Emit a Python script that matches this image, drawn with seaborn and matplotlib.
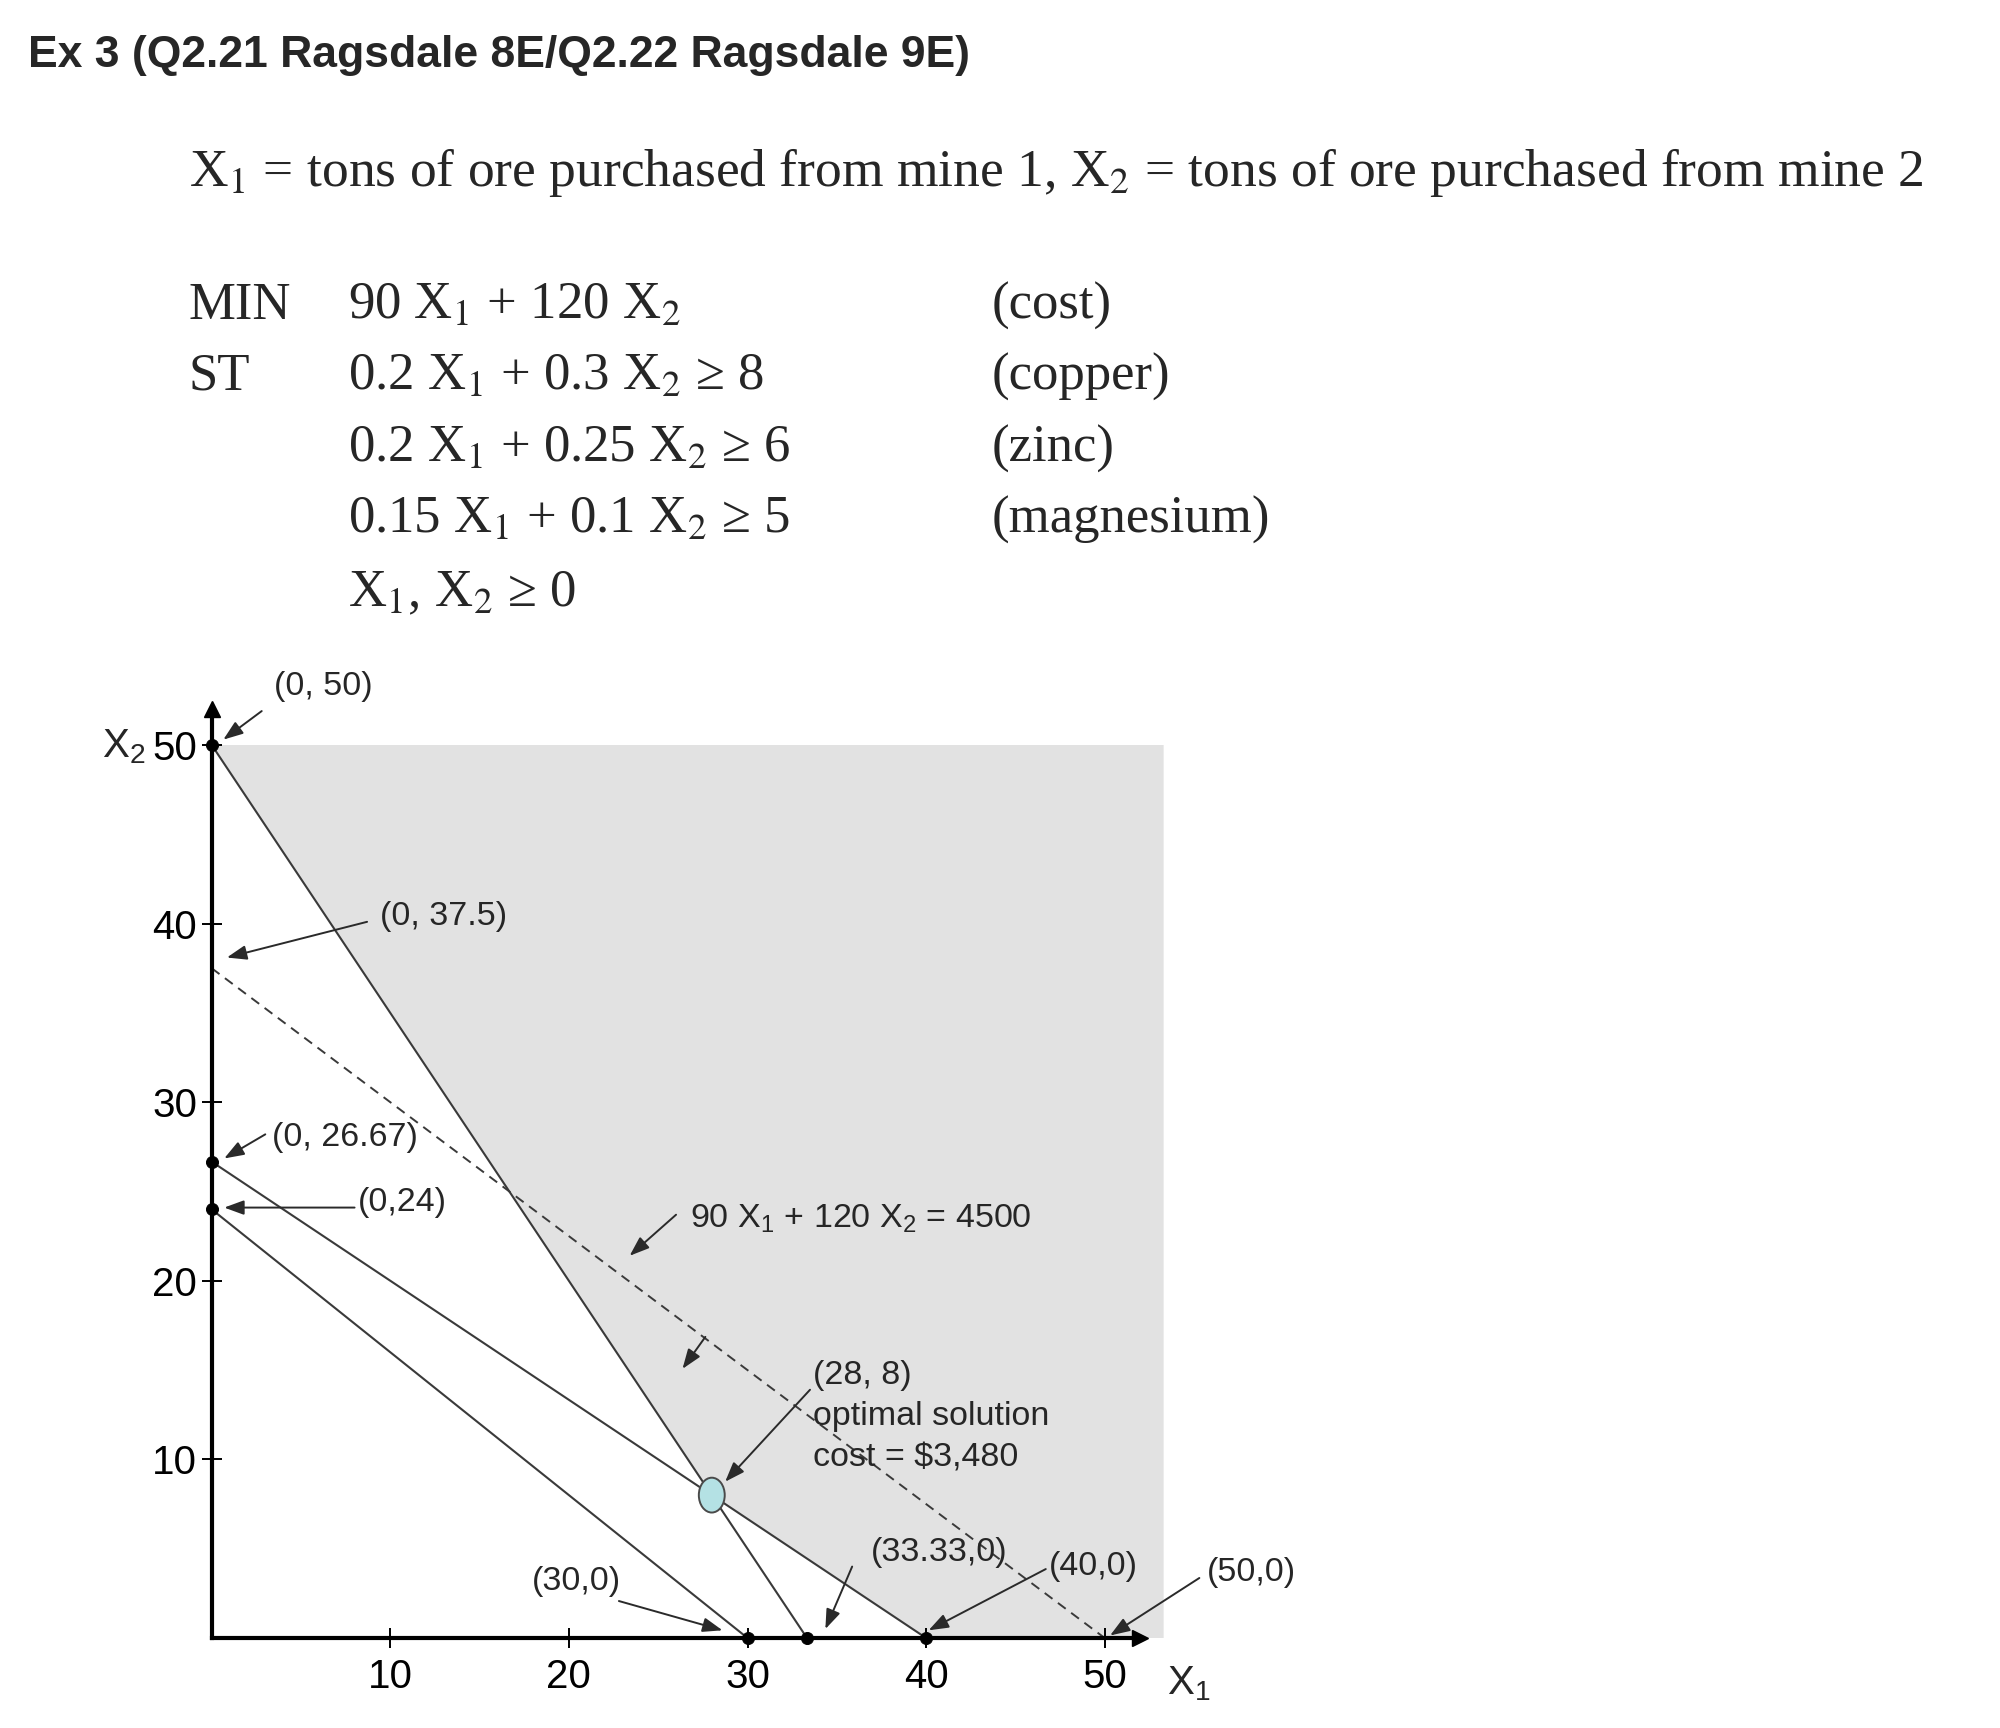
import matplotlib
matplotlib.use("Agg")
import matplotlib.pyplot as plt
from matplotlib.patches import Ellipse
import numpy as np
import pandas as pd
import seaborn as sns

# ------------------------------------------------------------------ data
title_text = "Ex 3 (Q2.21 Ragsdale 8E/Q2.22 Ragsdale 9E)"
definition_text = ("X$_1$ = tons of ore purchased from mine 1, "
                   "X$_2$ = tons of ore purchased from mine 2")
model_keywords = ["MIN", "ST", "", "", ""]
model_expressions = ["90 X$_1$ + 120 X$_2$",
                     "0.2 X$_1$ + 0.3 X$_2$ \u2265 8",
                     "0.2 X$_1$ + 0.25 X$_2$ \u2265 6",
                     "0.15 X$_1$ + 0.1 X$_2$ \u2265 5",
                     "X$_1$, X$_2$ \u2265 0"]
model_notes = ["(cost)", "(copper)", "(zinc)", "(magnesium)", ""]

axis_ticks = [10, 20, 30, 40, 50]
constraint_names = ["copper", "zinc", "magnesium"]
constraint_x1_intercepts = [40.0, 30.0, 33.33]
constraint_x2_intercepts = [26.67, 24.0, 50.0]
isocost_x1 = [0.0, 50.0]
isocost_x2 = [37.5, 0.0]
corner_x1 = [0, 0, 0, 30, 33.33, 40]
corner_x2 = [50, 26.67, 24, 0, 0, 0]
optimum_x1 = [28]
optimum_x2 = [8]
region_x1 = [0, 53.3, 53.3, 40, 28, 0]
region_x2 = [50, 50, 0, 0, 8, 50]

# ------------------------------------------------------------------ style
sns.set_theme(style="white")
plt.rcParams["font.family"] = ["Liberation Sans", "DejaVu Sans"]
plt.rcParams["mathtext.fontset"] = "custom"
plt.rcParams["mathtext.rm"] = "Liberation Sans"
plt.rcParams["mathtext.it"] = "Liberation Sans:italic"
plt.rcParams["mathtext.bf"] = "Liberation Sans:bold"

W, H = 2000, 1728
fig = plt.figure(figsize=(W / 100, H / 100), dpi=100)
fig.patch.set_facecolor("white")

# header text (pixel layout -> figure fraction)
def fx(px):
    return px / W

def fy(py):
    return 1 - py / H

fig.text(fx(28), fy(67), title_text, fontsize=32, fontweight="bold",
         ha="left", va="baseline", family=["Liberation Sans", "DejaVu Sans"])
serif = ["Liberation Serif", "DejaVu Serif"]
fig.text(fx(189), fy(186), definition_text, fontsize=38.5, family=serif,
         math_fontfamily="stix", ha="left", va="baseline")
row_baselines = [319, 390, 462, 533, 606]
for kw, expr, note, yb in zip(model_keywords, model_expressions, model_notes, row_baselines):
    if kw:
        fig.text(fx(189), fy(yb), kw, fontsize=38, family=serif, va="baseline")
    fig.text(fx(348), fy(yb), expr, fontsize=38, family=serif,
             math_fontfamily="stix", va="baseline")
    if note:
        fig.text(fx(992), fy(yb), note, fontsize=38, family=serif, va="baseline")

# ------------------------------------------------------------------ axes
ORIGIN_X, ORIGIN_Y, UNIT = 211.7, 1638.0, 17.86
xlim, ylim = (-6, 66), (-5, 56)
left_px = ORIGIN_X + xlim[0] * UNIT
bottom_px = ORIGIN_Y - ylim[0] * UNIT
ax = fig.add_axes([left_px / W, 1 - bottom_px / H,
                   (xlim[1] - xlim[0]) * UNIT / W, (ylim[1] - ylim[0]) * UNIT / H])
ax.set_facecolor("none")

# feasible region
ax.fill(region_x1, region_x2, color="#e2e2e2", lw=0, zorder=0)

# constraint lines
rows = []
for name, a, b in zip(constraint_names, constraint_x1_intercepts, constraint_x2_intercepts):
    rows.append({"constraint": name, "X1": 0.0, "X2": b})
    rows.append({"constraint": name, "X1": a, "X2": 0.0})
df = pd.DataFrame(rows)
sns.lineplot(data=df, x="X1", y="X2", units="constraint", estimator=None,
             sort=False, color="#3a3a3a", lw=1.5, ax=ax, zorder=3)
sns.lineplot(x=isocost_x1, y=isocost_x2, estimator=None, sort=False,
             color="#3a3a3a", lw=1.4, linestyle=(0, (5, 3.5)), ax=ax, zorder=3)

# corner points
sns.scatterplot(x=corner_x1, y=corner_x2, color="black", s=75,
                edgecolor="black", ax=ax, zorder=6, clip_on=False)

# optimal point
ax.add_patch(Ellipse((optimum_x1[0], optimum_x2[0]), 1.45, 1.95,
                     facecolor="#b4e1e4", edgecolor="#4a4a4a", lw=1.4, zorder=7))

# axes lines with arrows
for s in ["top", "right"]:
    ax.spines[s].set_visible(False)
for s in ["left", "bottom"]:
    ax.spines[s].set_position(("data", 0))
    ax.spines[s].set_bounds(0, 52.0)
    ax.spines[s].set_linewidth(3)
    ax.spines[s].set_color("black")
    ax.spines[s].set_zorder(5)
ax.plot([0], [52.0], marker="^", ms=12, color="black", clip_on=False, zorder=8)
ax.plot([52.0], [0], marker=">", ms=12, color="black", clip_on=False, zorder=8)

ax.set_xlim(*xlim)
ax.set_ylim(*ylim)
ax.set_xticks(axis_ticks)
ax.set_yticks(axis_ticks)
ax.set_xticklabels([str(t) for t in axis_ticks])
ax.set_yticklabels([str(t) for t in axis_ticks])
ax.tick_params(bottom=True, left=True, direction="inout", length=15, width=1.4,
               colors="black", labelsize=29)
ax.tick_params(axis="x", pad=7)
ax.tick_params(axis="y", pad=3)
ax.set_xlabel("")
ax.set_ylabel("")
ax.grid(False)

ax.text(-6.15, 49.3, "X$_2$", fontsize=29, ha="left", va="baseline")
ax.text(53.5, -3.14, "X$_1$", fontsize=29, ha="left", va="baseline")

# annotations: label, label position, arrow tail, arrow head
ANN_FS = 24.5
annotations = [
    ("(0, 50)", (3.5, 53.3), (2.8, 51.9), (0.65, 50.3)),
    ("(0, 37.5)", (9.4, 40.4), (8.7, 40.1), (0.85, 38.1)),
    ("(0, 26.67)", (3.4, 28.0), (3.0, 28.2), (0.7, 26.85)),
    ("(0,24)", (8.2, 24.4), (8.0, 24.1), (0.7, 24.1)),
    ("(33.33,0)", (36.9, 4.79), (35.86, 4.0), (34.36, 0.5)),
    ("(40,0)", (46.9, 4.0), (46.7, 3.86), (40.14, 0.43)),
    ("(50,0)", (55.7, 3.64), (55.3, 3.36), (50.3, 0.14)),
    ("(30,0)", (17.93, 3.14), (22.8, 2.07), (28.6, 0.43)),
    ("", None, (27.64, 16.86), (26.36, 15.07)),
    ("", None, (26.0, 23.7), (23.4, 21.4)),
    ("", None, (33.5, 13.9), (28.75, 8.75)),
]
arrow_kw = dict(arrowstyle="-|>,head_length=0.6,head_width=0.22",
                color="#2a2a2a", lw=1.4, shrinkA=0, shrinkB=0, mutation_scale=20)
for label, tpos, tail, head in annotations:
    ax.annotate("", xy=head, xytext=tail, arrowprops=arrow_kw, zorder=8,
                annotation_clip=False)
    if label:
        ax.text(tpos[0], tpos[1], label, fontsize=ANN_FS, ha="left",
                va="center", zorder=9)

ax.text(26.8, 23.0, "90 X$_1$ + 120 X$_2$ = 4500", fontsize=ANN_FS,
        ha="left", va="baseline", zorder=9)
for line, yc in zip(["(28, 8)", "optimal solution", r"cost = \$3,480"],
                    [14.71, 12.43, 10.07]):
    ax.text(33.64, yc, line, fontsize=ANN_FS, ha="left", va="center", zorder=9)

fig.savefig("out.png", dpi=100)
